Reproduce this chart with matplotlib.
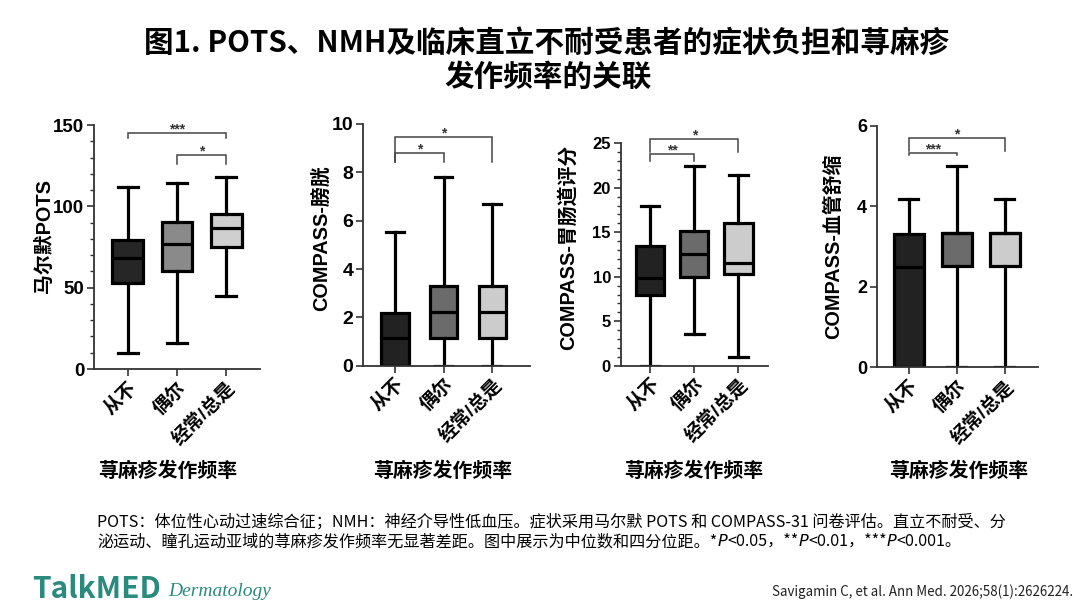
"""荨麻疹发作频率与 POTS / COMPASS 症状负担的箱线图。"""

import matplotlib

matplotlib.use("Agg")
import matplotlib.pyplot as plt
from matplotlib.ticker import MultipleLocator

plt.rcParams["font.family"] = ["Liberation Sans", "Noto Sans CJK SC", "DejaVu Sans"]
plt.rcParams["axes.unicode_minus"] = False

GROUPS = ["从不", "偶尔", "经常/总是"]
X_TITLE = "荨麻疹发作频率"
Y_TITLES = ["马尔默POTS", "COMPASS-膀胱", "COMPASS-胃肠道评分", "COMPASS-血管舒缩"]

# 每组: 下须, Q1, 中位数, Q3, 上须
POTS = [[10, 52.7, 68, 79.3, 112], [15.8, 60.4, 76.6, 90.1, 114.3], [44.9, 75.2, 86.4, 95.3, 118.2]]
BLADDER = [[0, 0, 1.13, 2.2, 5.55], [0, 1.16, 2.24, 3.31, 7.79], [0, 1.16, 2.24, 3.31, 6.67]]
GI = [[0, 7.9, 9.83, 13.4, 17.9], [3.56, 9.94, 12.53, 15.1, 22.4], [0.94, 10.3, 11.6, 16.0, 21.45]]
VASO = [[0, 0, 2.5, 3.3, 4.17], [0, 2.52, 3.34, 3.34, 5.0], [0, 2.52, 3.34, 3.34, 4.17]]

# 显著性标注: 组 i, 组 j, 横线高度, 竖线下端, 标记
SIG_POTS = [(0, 2, 144.8, 142.0, "***"), (1, 2, 131.5, 125.8, "*")]
SIG_BLADDER = [(0, 2, 9.47, 8.44, "*"), (0, 1, 8.78, 8.44, "*")]
SIG_GI = [(0, 2, 25.5, 24.0, "*"), (0, 1, 23.8, 23.0, "**")]
SIG_VASO = [(0, 2, 5.70, 5.38, "*"), (0, 1, 5.31, 5.27, "***")]

Y_MAX = [150, 10, 25, 6]
Y_STEP = [50, 2, 5, 2]
Y_MINOR = [10, None, 1, None]

FILLS_P1 = ["#262626", "#8a8a8a", "#cfcfcf"]
FILLS = ["#222222", "#6b6b6b", "#cccccc"]

W, H = 1080, 608

PANELS = [
    # 数据, 显著性, 轴框像素 (左, 右, 上, 下), xlim, 箱宽, 填充, y标题中心, x标题中心x, 刻度字号
    (POTS, SIG_POTS, (94, 260, 125, 369), (-0.69, 2.69), 0.63, FILLS_P1, (44, 236), 168, 13.5),
    (BLADDER, SIG_BLADDER, (363, 530, 124, 365.7), (-0.66, 2.78), 0.56, FILLS, (321, 238), 443, 14),
    (GI, SIG_GI, (620.7, 768, 143.3, 365.7), (-0.67, 2.67), 0.64, FILLS, (568, 247), 694, 12),
    (VASO, SIG_VASO, (876.7, 1038, 125.7, 367.3), (-0.67, 2.69), 0.61, FILLS, (834, 246), 959, 13),
]


def fx(px):
    return px / W


def fy(py):
    return 1 - py / H


def draw_panel(fig, k, spec):
    data, sigs, (l, r, t, b), xlim, width, fills, ylab_pos, xlab_x, tick_fs = spec
    ax = fig.add_axes([fx(l), fy(b), (r - l) / W, (b - t) / H])
    stats = [
        {"whislo": v[0], "q1": v[1], "med": v[2], "q3": v[3], "whishi": v[4], "fliers": []}
        for v in data
    ]
    lw = 2.3
    res = ax.bxp(
        stats,
        positions=range(len(GROUPS)),
        widths=width,
        capwidths=width * 0.65,
        patch_artist=True,
        showfliers=False,
        boxprops={"linewidth": lw, "edgecolor": "black"},
        medianprops={"color": "black", "linewidth": lw},
        whiskerprops={"color": "black", "linewidth": lw},
        capprops={"color": "black", "linewidth": lw},
    )
    for patch, color in zip(res["boxes"], fills):
        patch.set_facecolor(color)

    ax.set_xlim(*xlim)
    ax.set_ylim(0, Y_MAX[k])
    ax.yaxis.set_major_locator(MultipleLocator(Y_STEP[k]))
    if Y_MINOR[k]:
        ax.yaxis.set_minor_locator(MultipleLocator(Y_MINOR[k]))
        ax.tick_params(axis="y", which="minor", length=3, width=1, color="#333333")
    ax.set_xticks(range(len(GROUPS)))
    ax.set_xticklabels(
        GROUPS, rotation=45, ha="right", va="top", rotation_mode="anchor",
        fontsize=13.5, fontweight="bold",
    )
    for lab in ax.get_yticklabels():
        lab.set_fontweight("bold")
        lab.set_fontsize(tick_fs)
    ax.tick_params(axis="both", which="major", length=5, width=1.2, color="#333333", pad=2)
    for side in ("top", "right"):
        ax.spines[side].set_visible(False)
    for side in ("left", "bottom"):
        ax.spines[side].set_linewidth(1.3)
        ax.spines[side].set_color("#333333")

    ax.set_ylabel(Y_TITLES[k], fontsize=14.3, fontweight="bold")
    ax.yaxis.set_label_coords(fx(ylab_pos[0]), fy(ylab_pos[1]), transform=fig.transFigure)
    ax.set_xlabel(X_TITLE, fontsize=14.3, fontweight="bold")
    ax.xaxis.set_label_coords(fx(xlab_x), fy(471), transform=fig.transFigure)
    ax.xaxis.label.set_va("center")
    ax.yaxis.label.set_va("center")

    for i, j, y, tip, mark in sigs:
        ax.plot([i, i, j, j], [tip, y, y, tip], color="#444444", linewidth=1.1,
                clip_on=False, solid_joinstyle="miter")
        ax.annotate(mark, xy=((i + j) / 2, y), xytext=(0, -2.5), textcoords="offset points",
                    ha="center", va="bottom", fontsize=10, fontweight="bold",
                    color="#333333", annotation_clip=False)
    return ax


def main():
    fig = plt.figure(figsize=(W / 100, H / 100), dpi=100)
    for k, spec in enumerate(PANELS):
        draw_panel(fig, k, spec)

    cjk = ["Noto Sans CJK SC", "DejaVu Sans"]
    fig.text(fx(547), fy(43), "图1. POTS、NMH及临床直立不耐受患者的症状负担和荨麻疹",
             ha="center", va="center", fontsize=21.3, fontweight="bold", family=cjk)
    fig.text(fx(548), fy(77), "发作频率的关联",
             ha="center", va="center", fontsize=21.3, fontweight="bold", family=cjk)

    note_fs = 11.6
    fig.text(fx(97), fy(526),
             "POTS：体位性心动过速综合征；NMH：神经介导性低血压。症状采用马尔默 POTS 和 COMPASS-31 问卷评估。直立不耐受、分",
             ha="left", va="baseline", fontsize=note_fs, family=cjk)
    pieces = [
        ("泌运动、瞳孔运动亚域的荨麻疹发作频率无显著差距。图中展示为中位数和四分位距。*", False),
        ("P", True), ("<0.05，**", False), ("P", True), ("<0.01，***", False),
        ("P", True), ("<0.001。", False),
    ]
    renderer = fig.canvas.get_renderer()
    x = fx(97)
    for txt, italic in pieces:
        if italic:
            t = fig.text(x, fy(546), txt, ha="left", va="baseline", fontsize=note_fs,
                         family=["DejaVu Sans"], style="italic")
        else:
            t = fig.text(x, fy(546), txt, ha="left", va="baseline", fontsize=note_fs, family=cjk)
        bb = t.get_window_extent(renderer)
        x = fig.transFigure.inverted().transform((bb.x1, bb.y0))[0]

    teal = "#2b8a7e"
    fig.text(fx(32), fy(598), "TalkMED", ha="left", va="baseline", fontsize=21.5,
             fontweight="bold", color=teal, family=cjk)
    fig.text(fx(168), fy(596), "Dermatology", ha="left", va="baseline", fontsize=14,
             style="italic", color=teal, family=["Liberation Serif", "DejaVu Serif"])
    fig.text(fx(1073), fy(592), "Savigamin C, et al. Ann Med. 2026;58(1):2626224.",
             ha="right", va="center", fontsize=9.6, color="#222222", family=cjk)

    fig.savefig("out.png", dpi=100)
    plt.close(fig)


if __name__ == "__main__":
    main()
